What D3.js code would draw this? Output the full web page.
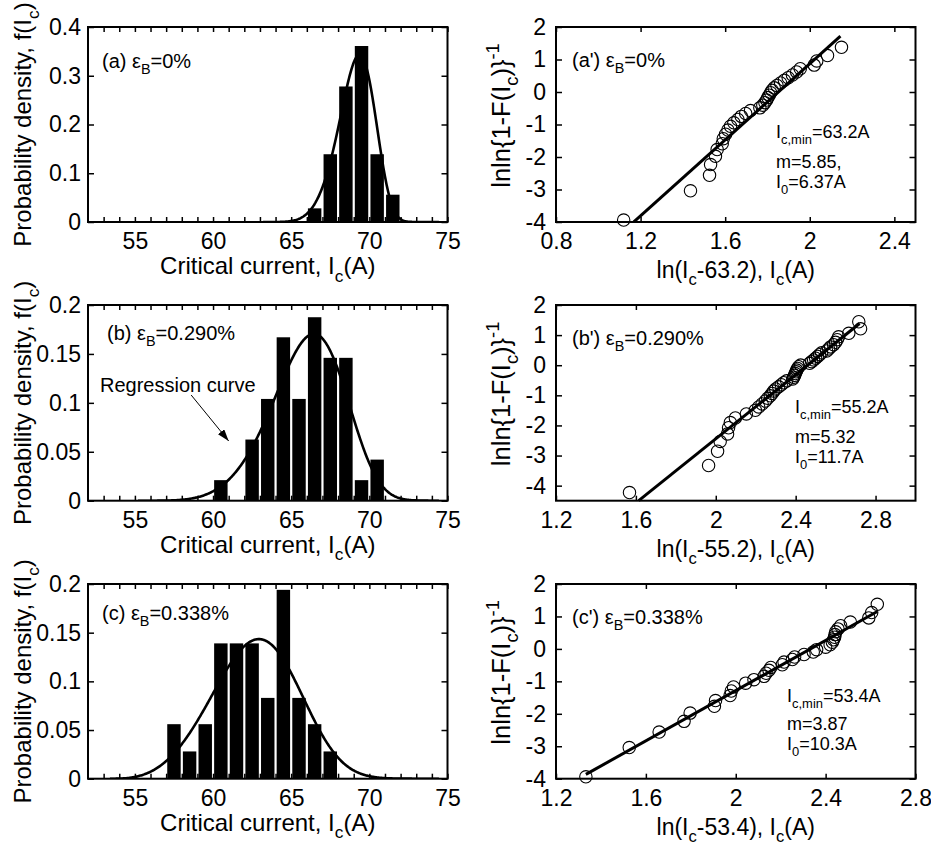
<!DOCTYPE html>
<html>
<head>
<meta charset="utf-8">
<script src="https://cdn.jsdelivr.net/npm/d3@7"></script>
<style>
  html, body { margin: 0; padding: 0; background: #fff; }
  svg { display: block; font-family: "Liberation Sans", Arial, Helvetica, sans-serif; }
  text { white-space: pre; }
</style>
</head>
<body>
<svg id="chart" width="931" height="848"></svg>
<script>
// ---------------- data ----------------
const strainLabels = ["0%", "0.290%", "0.338%"];
// three-parameter Weibull fits: Ic,min (A), shape m, scale I0 (A)
const icMin = [63.2, 55.2, 53.4];
const weibullM = [5.85, 5.32, 3.87];
const scaleI0 = [6.37, 11.7, 10.3];

// histograms: bin centres (A) and probability density
const binsA = [66.5, 67.5, 68.5, 69.5, 70.5, 71.5];
const densityA = [0.028, 0.139, 0.278, 0.361, 0.139, 0.056];
const binsB = [60.5, 62.5, 63.5, 64.5, 65.5, 66.5, 67.5, 68.5, 69.5, 70.5];
const densityB = [0.021, 0.0625, 0.104, 0.167, 0.104, 0.1875, 0.146, 0.146, 0.021, 0.042];
const binsC = [57.5, 58.5, 59.5, 60.5, 61.5, 62.5, 63.5, 64.5, 65.5, 66.5, 67.5];
const densityC = [0.056, 0.028, 0.056, 0.139, 0.139, 0.139, 0.083, 0.194, 0.083, 0.056, 0.028];

// Weibull plots: x = ln(Ic - Ic,min), y = lnln{1-F(Ic)}^-1
const weibullXA = [1.120, 1.436, 1.526, 1.531, 1.554, 1.562, 1.586, 1.591, 1.602, 1.613, 1.625, 1.641,
  1.660, 1.676, 1.697, 1.720, 1.764, 1.778, 1.788, 1.796, 1.802, 1.808, 1.815, 1.822, 1.832, 1.845,
  1.862, 1.880, 1.898, 1.918, 1.938, 1.955, 2.021, 2.033, 2.084, 2.150];
const weibullYA = [-3.941, -3.040, -2.563, -2.233, -1.979, -1.770, -1.592, -1.437, -1.298, -1.171,
  -1.055, -0.947, -0.846, -0.750, -0.659, -0.572, -0.488, -0.406, -0.327, -0.249, -0.173, -0.098,
  -0.023, 0.052, 0.127, 0.202, 0.279, 0.359, 0.440, 0.526, 0.617, 0.716, 0.827, 0.956, 1.120, 1.374];

const weibullXB = [1.568, 1.964, 2.009, 2.022, 2.059, 2.064, 2.073, 2.098, 2.153, 2.198, 2.215, 2.232,
  2.248, 2.260, 2.273, 2.282, 2.290, 2.300, 2.315, 2.328, 2.340, 2.355, 2.385, 2.390, 2.395, 2.398,
  2.402, 2.405, 2.410, 2.415, 2.425, 2.470, 2.480, 2.490, 2.500, 2.510, 2.520, 2.530, 2.555, 2.565,
  2.575, 2.590, 2.600, 2.608, 2.615, 2.666, 2.725, 2.716];
const weibullYB = [-4.229, -3.331, -2.858, -2.532, -2.281, -2.077, -1.904, -1.753, -1.619, -1.498,
  -1.387, -1.285, -1.190, -1.100, -1.016, -0.936, -0.860, -0.787, -0.717, -0.649, -0.583, -0.520,
  -0.457, -0.397, -0.337, -0.278, -0.220, -0.163, -0.107, -0.050, 0.006, 0.062, 0.119, 0.175, 0.233,
  0.291, 0.351, 0.412, 0.475, 0.540, 0.609, 0.682, 0.760, 0.847, 0.944, 1.060, 1.209, 1.444];

const weibullXC = [1.333, 1.526, 1.659, 1.770, 1.797, 1.905, 1.910, 1.975, 1.980, 1.990, 2.044, 2.081,
  2.126, 2.135, 2.148, 2.156, 2.207, 2.215, 2.252, 2.262, 2.304, 2.345, 2.360, 2.400, 2.420, 2.430,
  2.435, 2.440, 2.442, 2.445, 2.455, 2.467, 2.510, 2.592, 2.605, 2.630];
const weibullYC = [-3.941, -3.040, -2.563, -2.233, -1.979, -1.770, -1.592, -1.437, -1.298, -1.171,
  -1.055, -0.947, -0.846, -0.750, -0.659, -0.572, -0.488, -0.406, -0.327, -0.249, -0.173, -0.098,
  -0.023, 0.052, 0.127, 0.202, 0.279, 0.359, 0.440, 0.526, 0.617, 0.716, 0.827, 0.956, 1.120, 1.374];

// x extent of each fitted straight line
const fitRangeA = [1.168, 2.145];
const fitRangeB = [1.614, 2.720];
const fitRangeC = [1.333, 2.630];

// axis ticks
const histDomainX = [52, 75];
const histMinorX = d3.range(53, 76);
const histTicksYA = [0, 0.1, 0.2, 0.3, 0.4];
const histTicksYBC = [0, 0.05, 0.1, 0.15, 0.2];
const plotTicksXA = [0.8, 1.2, 1.6, 2, 2.4];
const plotTicksXBC = [1.2, 1.6, 2, 2.4, 2.8];
const plotTicksY = [-4, -3, -2, -1, 0, 1, 2];

// ---------------- layout ----------------
const LEFT = { x0: 88, x1: 447.5 };
const RIGHT = { x0: 556, x1: 915.5 };
const ROWS = [{ y0: 27, y1: 222 }, { y0: 305, y1: 500.7 }, { y0: 584, y1: 778.7 }];
const TICK_FONT = 23;

const svg = d3.select("#chart");
const defs = svg.append("defs");
defs.append("marker")
  .attr("id", "arrowhead")
  .attr("markerUnits", "userSpaceOnUse")
  .attr("markerWidth", 13).attr("markerHeight", 8)
  .attr("refX", 12).attr("refY", 4)
  .attr("orient", "auto")
  .append("path").attr("d", "M0,0 L12,4 L0,8 Z").attr("fill", "#000");

// text with sub/superscript runs
function rich(sel, parts, size) {
  let cur = 0;
  parts.forEach(p => {
    const [str, mode] = Array.isArray(p) ? p : [p, ""];
    const off = mode === "sub" ? 0.32 * size : mode === "sup" ? -0.42 * size : 0;
    sel.append("tspan")
      .attr("dy", (off - cur).toFixed(2))
      .attr("font-size", mode ? size * 0.72 : size)
      .text(str);
    cur = off;
  });
  return sel;
}

function styleAxis(g) {
  g.select(".domain").remove();
  g.attr("font-family", null).attr("font-size", TICK_FONT);
  g.selectAll(".tick line").attr("stroke", "#000").attr("stroke-width", 1.5);
  g.selectAll(".tick text").attr("fill", "#000");
}

function drawAxes(g, x, y, w, h, o) {
  g.append("g").attr("transform", `translate(0,${h})`)
    .call(d3.axisBottom(x).tickValues(o.xTicks).tickSize(-5).tickSizeOuter(0)
      .tickPadding(11).tickFormat(o.xFormat))
    .call(styleAxis);
  g.append("g")
    .call(d3.axisTop(x).tickValues(o.xTicks).tickSize(-5).tickSizeOuter(0).tickFormat(""))
    .call(styleAxis);
  g.append("g")
    .call(d3.axisLeft(y).tickValues(o.yTicks).tickSize(-6).tickSizeOuter(0)
      .tickPadding(o.yPad).tickFormat(d => String(d)))
    .call(styleAxis);
  g.append("g").attr("transform", `translate(${w},0)`)
    .call(d3.axisRight(y).tickValues(o.yTicks).tickSize(-6).tickSizeOuter(0).tickFormat(""))
    .call(styleAxis);
  g.append("rect").attr("width", w).attr("height", h)
    .attr("fill", "none").attr("stroke", "#000").attr("stroke-width", 2);
}

// ---------------- histograms with Weibull density curves ----------------
const histPanels = [
  { bins: binsA, dens: densityA, yMax: 0.4, yTicks: histTicksYA, tag: "(a) ", tagDx: 14, tagDy: 41 },
  { bins: binsB, dens: densityB, yMax: 0.2, yTicks: histTicksYBC, tag: "(b) ", tagDx: 19, tagDy: 35,
    note: { text: "Regression curve", dx: 12, dy: 87, from: [58.6, 0.108], to: [61.0, 0.061] } },
  { bins: binsC, dens: densityC, yMax: 0.2, yTicks: histTicksYBC, tag: "(c) ", tagDx: 14, tagDy: 36 }
];

histPanels.forEach((p, i) => {
  const row = ROWS[i];
  const w = LEFT.x1 - LEFT.x0, h = row.y1 - row.y0;
  const x = d3.scaleLinear().domain(histDomainX).range([0, w]);
  const y = d3.scaleLinear().domain([0, p.yMax]).range([h, 0]);
  const g = svg.append("g").attr("transform", `translate(${LEFT.x0},${row.y0})`);
  const clipId = `clip-hist-${i}`;
  g.append("clipPath").attr("id", clipId).append("rect").attr("width", w).attr("height", h);

  const barHalf = 0.43;
  g.append("g").selectAll("rect")
    .data(p.bins.map((c, k) => ({ c, d: p.dens[k] })))
    .join("rect")
    .attr("x", d => x(d.c - barHalf))
    .attr("width", d => x(d.c + barHalf) - x(d.c - barHalf))
    .attr("y", d => y(d.d))
    .attr("height", d => y(0) - y(d.d))
    .attr("fill", "#000");

  // Weibull probability density from the fitted parameters
  const m = weibullM[i], i0 = scaleI0[i], i1 = icMin[i];
  const pdf = I => {
    const t = (I - i1) / i0;
    return t <= 0 ? 0 : (m / i0) * Math.pow(t, m - 1) * Math.exp(-Math.pow(t, m));
  };
  const grid = d3.range(i1, 74.5, 0.05);
  g.append("path").datum(grid)
    .attr("clip-path", `url(#${clipId})`)
    .attr("fill", "none").attr("stroke", "#000").attr("stroke-width", 2.6)
    .attr("stroke-linejoin", "round")
    .attr("d", d3.line().x(d => x(d)).y(d => y(pdf(d))));

  drawAxes(g, x, y, w, h, {
    xTicks: histMinorX, xFormat: d => (d % 5 === 0 ? String(d) : ""),
    yTicks: p.yTicks, yPad: 7
  });

  rich(g.append("text").attr("x", p.tagDx).attr("y", p.tagDy),
    [p.tag + "\u03b5", ["B", "sub"], "=" + strainLabels[i]], 20);

  if (p.note) {
    rich(g.append("text").attr("x", p.note.dx).attr("y", p.note.dy), [p.note.text], 20);
    g.append("line")
      .attr("x1", x(p.note.from[0])).attr("y1", y(p.note.from[1]))
      .attr("x2", x(p.note.to[0])).attr("y2", y(p.note.to[1]))
      .attr("stroke", "#000").attr("stroke-width", 1)
      .attr("marker-end", "url(#arrowhead)");
  }

  // axis titles
  rich(svg.append("text").attr("text-anchor", "middle")
    .attr("x", (LEFT.x0 + LEFT.x1) / 2).attr("y", row.y1 + 52),
    ["Critical current, I", ["c", "sub"], "(A)"], 24);
  rich(svg.append("text").attr("text-anchor", "middle")
    .attr("transform", `translate(31,${(row.y0 + row.y1) / 2}) rotate(-90)`),
    ["Probability density, f(I", ["c", "sub"], ")"], 24);
});

// ---------------- Weibull plots ----------------
const weibullPanels = [
  { xs: weibullXA, ys: weibullYA, xDom: [0.8, 2.5], yDom: [-4, 2], xTicks: plotTicksXA,
    fit: fitRangeA, tag: "(a') ", mSuffix: ",", px: 220, py: [111, 141, 161] },
  { xs: weibullXB, ys: weibullYB, xDom: [1.2, 3.0], yDom: [-4.5, 2], xTicks: plotTicksXBC,
    fit: fitRangeB, tag: "(b') ", mSuffix: "", px: 239, py: [108, 138, 158] },
  { xs: weibullXC, ys: weibullYC, xDom: [1.2, 2.8], yDom: [-4, 2], xTicks: plotTicksXBC,
    fit: fitRangeC, tag: "(c') ", mSuffix: "", px: 231, py: [118, 146, 166] }
];

weibullPanels.forEach((p, i) => {
  const row = ROWS[i];
  const w = RIGHT.x1 - RIGHT.x0, h = row.y1 - row.y0;
  const x = d3.scaleLinear().domain(p.xDom).range([0, w]);
  const y = d3.scaleLinear().domain(p.yDom).range([h, 0]);
  const g = svg.append("g").attr("transform", `translate(${RIGHT.x0},${row.y0})`);

  // fitted line: lnln{1-F}^-1 = m ln(Ic - Ic,min) - m ln(I0)
  const m = weibullM[i], b = -m * Math.log(scaleI0[i]);
  g.append("line")
    .attr("x1", x(p.fit[0])).attr("y1", y(m * p.fit[0] + b))
    .attr("x2", x(p.fit[1])).attr("y2", y(m * p.fit[1] + b))
    .attr("stroke", "#000").attr("stroke-width", 3);

  g.append("g").selectAll("circle")
    .data(p.xs.map((v, k) => [v, p.ys[k]]))
    .join("circle")
    .attr("cx", d => x(d[0])).attr("cy", d => y(d[1])).attr("r", 6.2)
    .attr("fill", "none").attr("stroke", "#000").attr("stroke-width", 1.1);

  drawAxes(g, x, y, w, h, {
    xTicks: p.xTicks, xFormat: d => String(d), yTicks: plotTicksY, yPad: 10
  });

  rich(g.append("text").attr("x", 16).attr("y", 40),
    [p.tag + "\u03b5", ["B", "sub"], "=" + strainLabels[i]], 20);

  rich(g.append("text").attr("x", p.px).attr("y", p.py[0]),
    ["I", ["c,min", "sub"], "=" + icMin[i].toFixed(1) + "A"], 18);
  rich(g.append("text").attr("x", p.px).attr("y", p.py[1]),
    ["m=" + weibullM[i] + p.mSuffix], 18);
  rich(g.append("text").attr("x", p.px).attr("y", p.py[2]),
    ["I", ["0", "sub"], "=" + scaleI0[i] + "A"], 18);

  rich(svg.append("text").attr("text-anchor", "middle")
    .attr("x", (RIGHT.x0 + RIGHT.x1) / 2).attr("y", row.y1 + 56),
    ["ln(I", ["c", "sub"], "-" + icMin[i] + "), I", ["c", "sub"], "(A)"], 23);
  rich(svg.append("text").attr("text-anchor", "middle")
    .attr("transform", `translate(510,${(row.y0 + row.y1) / 2 - 9}) rotate(-90)`),
    ["lnln{1-F(I", ["c", "sub"], ")}", ["-1", "sup"]], 25.5);
});
</script>
</body>
</html>
